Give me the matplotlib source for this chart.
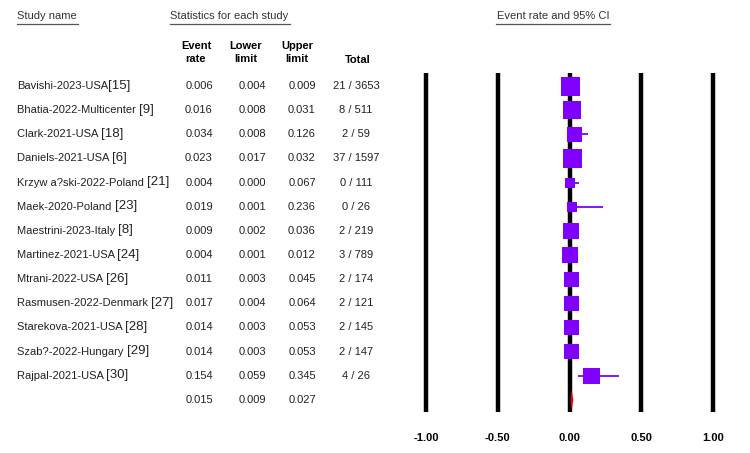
import matplotlib
matplotlib.use("Agg")
import matplotlib.pyplot as plt
import matplotlib.transforms as mtransforms
from matplotlib.lines import Line2D
import numpy as np

plt.rcParams['font.family'] = ['Liberation Sans', 'DejaVu Sans']

# ---------------- data ----------------
study_names = ["Bavishi-2023-USA", "Bhatia-2022-Multicenter ", "Clark-2021-USA ",
               "Daniels-2021-USA ", "Krzyw a?ski-2022-Poland ", "Maek-2020-Poland ",
               "Maestrini-2023-Italy ", "Martinez-2021-USA ", "Mtrani-2022-USA ",
               "Rasmusen-2022-Denmark ", "Starekova-2021-USA ", "Szab?-2022-Hungary ",
               "Rajpal-2021-USA "]
refs = ["[15]", "[9]", "[18]", "[6]", "[21]", "[23]", "[8]", "[24]", "[26]",
        "[27]", "[28]", "[29]", "[30]"]
event_rate = [0.006, 0.016, 0.034, 0.023, 0.004, 0.019, 0.009, 0.004, 0.011,
              0.017, 0.014, 0.014, 0.154]
lower_limit = [0.004, 0.008, 0.008, 0.017, 0.000, 0.001, 0.002, 0.001, 0.003,
               0.004, 0.003, 0.003, 0.059]
upper_limit = [0.009, 0.031, 0.126, 0.032, 0.067, 0.236, 0.036, 0.012, 0.045,
               0.064, 0.053, 0.053, 0.345]
events = [21, 8, 2, 37, 0, 0, 2, 3, 2, 2, 2, 2, 4]
totals = [3653, 511, 59, 1597, 111, 26, 219, 789, 174, 121, 145, 147, 26]
weights = [11.5, 10.4, 6.7, 11.5, 3.2, 2.9, 7.7, 8.2, 7.2, 7.2, 7.2, 7.7, 8.7]
pooled = [0.015, 0.009, 0.027]
axis_ticks = [-1.0, -0.5, 0.0, 0.5, 1.0]

# ---------------- figure ----------------
W, H = 750, 453
fig = plt.figure(figsize=(W / 100, H / 100), dpi=100)
fig.patch.set_facecolor('white')

def fx(px):
    return px / W

def fy(py):
    return 1 - py / H

ax = fig.add_axes([fx(411.6), (H - 412) / H, (727.4 - 411.6) / W, (412 - 73) / H])
n = len(study_names)
rows = np.arange(n)
pooled_row = n
ax.set_xlim(-1.1, 1.1)
ax.set_ylim(13.5, -0.54)
for s in ax.spines.values():
    s.set_visible(False)
ax.set_yticks([])
ax.set_xticks(axis_ticks)
ax.set_xticklabels([f"{t:.2f}" for t in axis_ticks], fontsize=8, fontweight='bold')
ax.tick_params(axis='x', length=0, pad=15)

for t in axis_ticks:
    ax.axvline(t, color='black', lw=3.2, solid_capstyle='butt', zorder=1)

purple = '#7F00FF'
ax.hlines(rows, lower_limit, upper_limit, color=purple, lw=1.3, zorder=2)
ax.scatter(event_rate, rows, s=np.array(weights) * 16.3, marker='s',
           color=purple, linewidths=0, zorder=3)

est, lo, hi = pooled
ax.fill([lo, est, hi, est], [pooled_row, pooled_row - 0.42, pooled_row, pooled_row + 0.42],
        color='red', zorder=4, lw=0)

# ---------------- text table ----------------
tr = mtransforms.blended_transform_factory(fig.transFigure, ax.transData)
txt_color = '#222222'
fs = 8

for i in range(n):
    t = fig.text(fx(17), rows[i], study_names[i], transform=tr, fontsize=fs,
                 va='center', ha='left', color=txt_color)
    fig.add_artist(plt.matplotlib.text.Annotation(
        refs[i], xy=(1, 0.55), xycoords=t, fontsize=9.5, va='center', ha='left',
        color=txt_color))
    fig.text(fx(199), rows[i], f"{event_rate[i]:.3f}", transform=tr, fontsize=fs,
             va='center', ha='center', color=txt_color)
    fig.text(fx(252), rows[i], f"{lower_limit[i]:.3f}", transform=tr, fontsize=fs,
             va='center', ha='center', color=txt_color)
    fig.text(fx(302), rows[i], f"{upper_limit[i]:.3f}", transform=tr, fontsize=fs,
             va='center', ha='center', color=txt_color)
    fig.text(fx(356), rows[i], f"{events[i]} / {totals[i]}", transform=tr, fontsize=fs,
             va='center', ha='center', color=txt_color)

for x, v in zip([199, 252, 302], pooled):
    fig.text(fx(x), pooled_row, f"{v:.3f}", transform=tr, fontsize=fs,
             va='center', ha='center', color=txt_color)

# headers
hdr_color = '#333333'
fig.text(fx(17), fy(16), "Study name", fontsize=fs, va='center', ha='left', color=hdr_color)
fig.text(fx(170), fy(16), "Statistics for each study", fontsize=fs, va='center',
         ha='left', color=hdr_color)
fig.text(fx(553), fy(16), "Event rate and 95% CI", fontsize=fs, va='center',
         ha='center', color=hdr_color)
for x0, x1 in [(17, 78), (170, 290), (496, 610)]:
    fig.add_artist(Line2D([fx(x0), fx(x1)], [fy(24), fy(24)], color='#555555',
                          lw=0.9, transform=fig.transFigure))

for x, label in [(196, "Event\nrate"), (246, "Lower\nlimit"), (297, "Upper\nlimit")]:
    fig.text(fx(x), fy(52.5), label, fontsize=fs, fontweight='bold', va='center',
             ha='center', linespacing=1.3, color='black')
fig.text(fx(358), fy(60), "Total", fontsize=fs, fontweight='bold', va='center',
         ha='center', color='black')

fig.savefig("out.png", dpi=100, facecolor='white')
